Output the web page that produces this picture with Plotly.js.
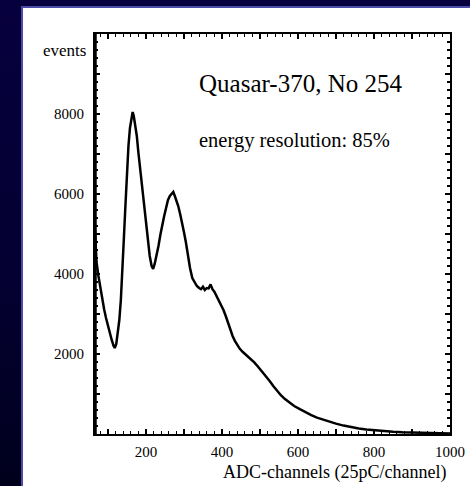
<!DOCTYPE html>
<html>
<head>
<meta charset="utf-8">
<script src="https://cdn.plot.ly/plotly-3.0.1.min.js"></script>
<style>
html, body { margin:0; padding:0; width:470px; height:486px; overflow:hidden;
  background: linear-gradient(to bottom, #07003e 0%, #040030 60%, #00001c 100%); }
#chart { width:470px; height:486px; }
</style>
</head>
<body>
<div id="chart"></div>
<script>
// ADC channel
const adcChannel = [66, 68, 70, 75, 80, 85, 90, 95, 100, 105, 110, 115, 118, 122, 126, 130, 134, 138, 142, 146,
  150, 154, 158, 162, 165, 168, 172, 176, 180, 185, 190, 195, 200, 205, 210, 215, 219, 223, 228, 233,
  238, 243, 248, 253, 258, 263, 268, 272, 276, 280, 285, 290, 295, 300, 305, 310, 316, 322, 328, 334,
  340, 345, 350, 355, 360, 365, 370, 375, 380, 386, 392, 398, 404, 410, 416, 422, 428, 434, 440, 447,
  455, 465, 475, 485, 495, 505, 515, 525, 535, 545, 555, 565, 575, 590, 605, 620, 635, 650, 665, 680,
  700, 720, 740, 760, 780, 800, 825, 850, 875, 900, 925, 950, 975, 1000];
// events per channel
const events = [5100, 4700, 4300, 3950, 3650, 3400, 3120, 2900, 2700, 2520, 2350, 2200, 2150, 2250, 2500, 2850, 3350, 4000, 4900, 5700,
  6600, 7200, 7650, 7950, 8050, 7950, 7700, 7450, 7050, 6600, 6150, 5700, 5200, 4800, 4450, 4200, 4130, 4250, 4450, 4700,
  4980, 5250, 5450, 5650, 5850, 5950, 6020, 6050, 5950, 5850, 5700, 5500, 5300, 5050, 4800, 4450, 4150, 3900, 3780, 3700,
  3650, 3620, 3680, 3600, 3650, 3640, 3740, 3620, 3560, 3450, 3350, 3250, 3100, 2950, 2780, 2600, 2450, 2330, 2230, 2130,
  2050, 1970, 1880, 1790, 1680, 1570, 1450, 1330, 1200, 1080, 970, 880, 800, 700, 620, 540, 470, 410, 360, 310,
  260, 210, 170, 135, 110, 90, 72, 58, 45, 35, 28, 22, 17, 14];

const xTickVals = [100, 200, 300, 400, 500, 600, 700, 800, 900, 1000];
const xTickText = ['', '200', '', '400', '', '600', '', '800', '', '1000'];
const yTickVals = [1000, 2000, 3000, 4000, 5000, 6000, 7000, 8000, 9000, 10000];
const yTickText = ['', '2000', '', '4000', '', '6000', '', '8000', '', ''];

const serif = 'Liberation Serif, Times New Roman, serif';

const trace = {
  x: adcChannel, y: events, type: 'scatter', mode: 'lines',
  line: {color: '#000', width: 2.5, shape: 'linear'},
  hoverinfo: 'skip'
};

const axisCommon = {
  showgrid: false, zeroline: false, showline: true, linecolor: '#000', linewidth: 2,
  mirror: 'ticks', ticks: 'inside', ticklen: 5, tickwidth: 1.5, tickcolor: '#000',
  tickmode: 'array', tickfont: {family: serif, size: 15, color: '#000'}
};

const layout = {
  width: 470, height: 486,
  margin: {l: 95, r: 20, t: 34, b: 52, pad: 0},
  paper_bgcolor: 'rgba(0,0,0,0)', plot_bgcolor: '#fff',
  showlegend: false,
  xaxis: Object.assign({}, axisCommon, {
    range: [66, 1000], tickvals: xTickVals, ticktext: xTickText, ticklabelstandoff: 3,
    minor: {tickmode: 'linear', tick0: 0, dtick: 20, ticks: 'inside', ticklen: 3, tickwidth: 1.2, tickcolor: '#000'}
  }),
  yaxis: Object.assign({}, axisCommon, {
    range: [0, 10000], tickvals: yTickVals, ticktext: yTickText, ticklabelstandoff: 6,
    minor: {tickmode: 'linear', tick0: 0, dtick: 200, ticks: 'inside', ticklen: 3, tickwidth: 1.2, tickcolor: '#000'}
  }),
  shapes: [
    {type: 'rect', xref: 'paper', yref: 'paper', x0: -0.2056, x1: 1.1, y0: -0.2, y1: 1.0675,
     fillcolor: '#fff', line: {color: '#4c4ca8', width: 2}, layer: 'below'},
    {type: 'line', xref: 'paper', yref: 'paper', x0: 0, x1: 0, y0: 0, y1: 1,
     line: {color: '#000', width: 3.5}}
  ],
  annotations: [
    {text: 'events', xref: 'paper', yref: 'paper', x: -0.02, y: 0.9575, xanchor: 'right', yanchor: 'middle',
     showarrow: false, font: {family: serif, size: 17, color: '#000'}},
    {text: 'Quasar-370, No 254', xref: 'paper', yref: 'paper', x: 0.2865, y: 0.8775, xanchor: 'left', yanchor: 'middle',
     showarrow: false, font: {family: serif, size: 25, color: '#000'}},
    {text: 'energy resolution: 85%', xref: 'paper', yref: 'paper', x: 0.2865, y: 0.735, xanchor: 'left', yanchor: 'middle',
     showarrow: false, font: {family: serif, size: 20.5, color: '#000'}},
    {text: 'ADC-channels (25pC/channel)', xref: 'paper', yref: 'paper', x: 0.994, y: -0.0968, xanchor: 'right', yanchor: 'middle',
     showarrow: false, font: {family: serif, size: 18, color: '#000'}}
  ]
};

Plotly.newPlot('chart', [trace], layout, {displayModeBar: false, staticPlot: true});
</script>
</body>
</html>
